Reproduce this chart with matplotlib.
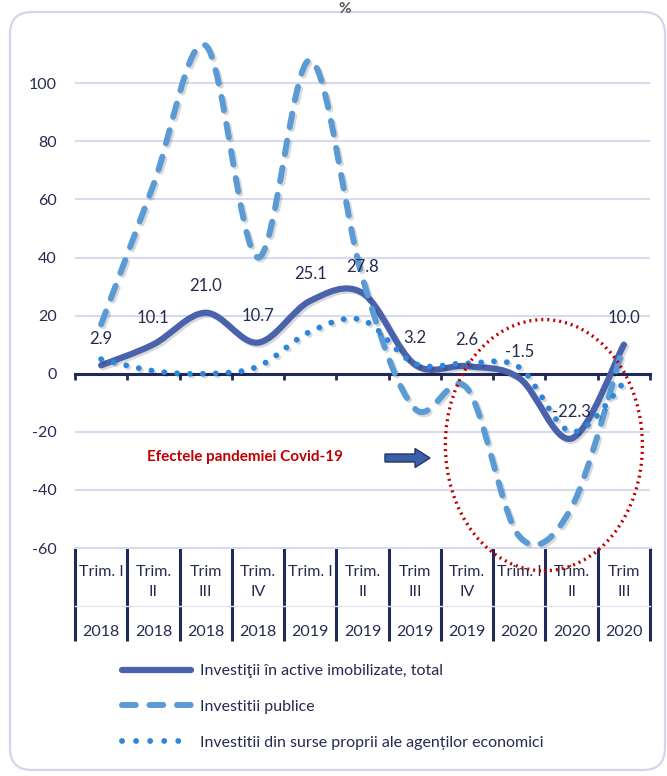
import numpy as np
import matplotlib
matplotlib.use('Agg')
import matplotlib.pyplot as plt
import matplotlib.patheffects as pe
from matplotlib.path import Path
from matplotlib.patches import PathPatch, Ellipse, FancyArrow, FancyBboxPatch
from matplotlib.lines import Line2D

plt.rcParams['font.family'] = ['Lato', 'DejaVu Sans']
plt.rcParams['axes.unicode_minus'] = False

# data (growth, %)
quarters = ['Trim. I', 'Trim.\nII', 'Trim\nIII', 'Trim.\nIV',
            'Trim. I', 'Trim.\nII', 'Trim\nIII', 'Trim.\nIV',
            'Trim. I', 'Trim.\nII', 'Trim\nIII']
years = ['2018', '2018', '2018', '2018', '2019', '2019', '2019', '2019',
         '2020', '2020', '2020']
total = [2.9, 10.1, 21.0, 10.7, 25.1, 27.8, 3.2, 2.6, -1.5, -22.3, 10.0]
public = [17, 65, 113, 40, 108, 33, -12, -5, -56, -46, 10]
own = [5, 1, 0, 2.5, 14.5, 18.5, 3.5, 3.6, 2.2, -20, -3]

names = ['Investiţii în active imobilizate, total',
         'Investitii publice',
         'Investitii din surse proprii ale agenților economici']

c_total = '#4a62ab'
c_public = '#5b9bd5'
c_own = '#2e86dc'
c_text = '#262a4f'
c_grid = '#d9daf0'
c_axis = '#1f2a5a'


def smooth_path(y):
    # Excel-like smoothed line: cubic Bezier segments through each point
    x = np.arange(len(y), dtype=float)
    y = np.asarray(y, dtype=float)
    px = np.concatenate([[x[0]], x, [x[-1]]])
    py = np.concatenate([[y[0]], y, [y[-1]]])
    verts = [(x[0], y[0])]
    codes = [Path.MOVETO]
    for i in range(len(y) - 1):
        c1 = (x[i] + (px[i + 2] - px[i]) / 6, y[i] + (py[i + 2] - py[i]) / 6)
        c2 = (x[i + 1] - (px[i + 3] - px[i + 1]) / 6, y[i + 1] - (py[i + 3] - py[i + 1]) / 6)
        verts += [c1, c2, (x[i + 1], y[i + 1])]
        codes += [Path.CURVE4] * 3
    return Path(verts, codes)


fig = plt.figure(figsize=(6.67, 7.76), dpi=100)
ax = fig.add_axes([75 / 667, 228 / 776, 575 / 667, 517 / 776])

shadow = [pe.SimpleLineShadow(offset=(1.5, -1.5), shadow_color='k', alpha=0.15), pe.Normal()]

p1 = PathPatch(smooth_path(total), fill=False, edgecolor=c_total, lw=4.5,
               capstyle='round', joinstyle='round', zorder=3, path_effects=shadow)
p2 = PathPatch(smooth_path(public), fill=False, edgecolor=c_public, lw=4.3,
               linestyle=(0, (2.3, 2.3)), capstyle='round', zorder=4, path_effects=shadow)
p3 = PathPatch(smooth_path(own), fill=False, edgecolor=c_own, lw=4.2,
               linestyle=(0, (0.01, 2.2)), capstyle='round', zorder=5, path_effects=shadow)
for p in (p1, p2, p3):
    ax.add_patch(p)

x = np.arange(len(total))
for xi, v in zip(x, total):
    ax.annotate(f'{v:.1f}', (xi, v), xytext=(0, 19), textcoords='offset points',
                ha='center', va='center', fontsize=12, color=c_text, zorder=7)

ax.set_xlim(-0.5, 10.5)
ax.set_ylim(-60, 118)
ax.set_yticks(np.arange(-60, 101, 20))
ax.yaxis.grid(True, color=c_grid, lw=1.5)
ax.set_axisbelow(True)
ax.tick_params(axis='y', length=0, pad=13, labelsize=11.5, labelcolor=c_text)
for s in ['left', 'right', 'top']:
    ax.spines[s].set_visible(False)
ax.spines['bottom'].set_position(('data', 0))
ax.spines['bottom'].set_color(c_axis)
ax.spines['bottom'].set_linewidth(2.2)
ax.spines['bottom'].set_zorder(2)
ax.set_xticks(np.arange(-0.5, 10.6, 1))
ax.set_xticklabels([])
ax.tick_params(axis='x', length=4, width=2, color=c_axis, direction='out')

# category table under the plot
tr = ax.get_xaxis_transform()
for b in np.arange(-0.5, 10.6, 1):
    ax.plot([b, b], [0, -0.18], transform=tr, color=c_axis, lw=2.2,
            clip_on=False, solid_capstyle='butt')
ax.plot([-0.5, 10.5], [0, 0], transform=tr, color=c_grid, lw=1.5, clip_on=False)
ax.plot([-0.5, 10.5], [-0.112, -0.112], transform=tr, color='#e6e6f2', lw=1, clip_on=False)
for xi, q, yr in zip(x, quarters, years):
    ax.annotate(q, (xi, 0), xycoords=('data', 'axes fraction'), xytext=(0, -12.5),
                textcoords='offset points', ha='center', va='top', fontsize=11.5,
                color=c_text, linespacing=1.55)
    ax.annotate(yr, (xi, 0), xycoords=('data', 'axes fraction'), xytext=(0, -60.5),
                textcoords='offset points', ha='center', va='center', fontsize=11.5,
                color=c_text)

# covid highlight
ax.add_patch(Ellipse((8.47, -24.6), 3.77, 86.5, fill=False, edgecolor='#c00000',
                     lw=2.4, linestyle=(0, (0.6, 1.2)), clip_on=False, zorder=6))
fig.text(245 / 667, 1 - 457 / 776, 'Efectele pandemiei Covid-19', color='#c00000',
         fontsize=11, fontweight='bold', ha='center', va='center')
fig.patches.append(FancyArrow(385, 776 - 458, 45, 0, width=8, head_width=19,
                              head_length=15, length_includes_head=True,
                              facecolor='#3d5fa8', edgecolor='#1f3864', lw=1,
                              transform=None, figure=fig))

fig.text(345 / 667, 1 - 2 / 776, '%', fontsize=11, fontweight='bold',
         color='#595959', ha='center', va='top')

fig.patches.append(FancyBboxPatch((10, 6), 655, 758, boxstyle='round,pad=0,rounding_size=22',
                                  fill=False, edgecolor='#d3d5ee', lw=1.6,
                                  transform=None, figure=fig))

handles = [Line2D([], [], color=c_total, lw=4.5, solid_capstyle='round'),
           Line2D([], [], color=c_public, lw=4.3, linestyle=(0, (2.3, 2.3)),
                  dash_capstyle='round'),
           Line2D([], [], color=c_own, lw=4.2, linestyle=(0, (0.01, 2.4)),
                  dash_capstyle='round')]
fig.legend(handles, names, loc='upper left', bbox_to_anchor=(122 / 667, 1 - 664 / 776),
           frameon=False, handlelength=4.3, handletextpad=0.6, labelspacing=1.35,
           fontsize=11.5, labelcolor=c_text, borderpad=0, borderaxespad=0)

fig.savefig('out.png', dpi=100)
